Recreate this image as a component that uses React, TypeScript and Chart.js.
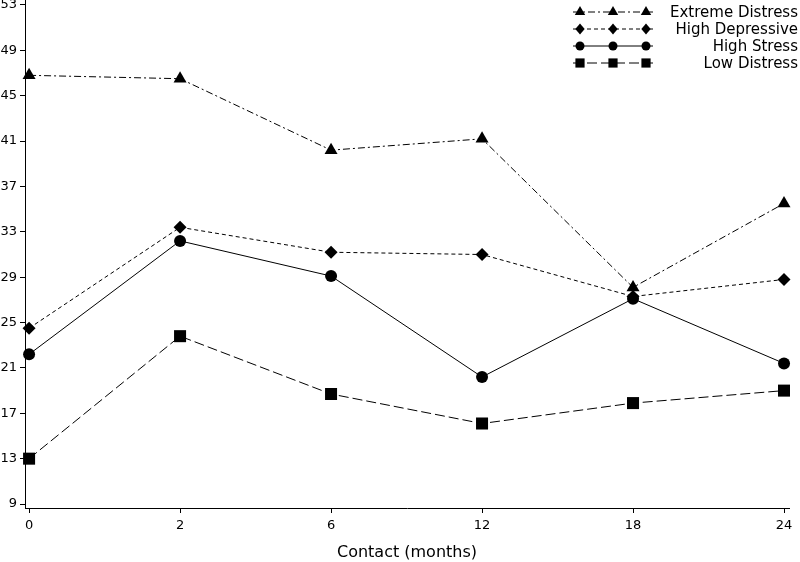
import React, { useEffect, useRef } from 'react';
import { Chart, registerables } from 'chart.js';

Chart.register(...registerables);

const categories = ['0', '2', '6', '12', '18', '24'];
const seriesNames = ['Extreme Distress', 'High Depressive', 'High Stress', 'Low Distress'];
const extremeDistress = [46.8, 46.5, 40.2, 41.2, 28.1, 35.5];
const highDepressive = [24.5, 33.4, 31.2, 31.0, 27.3, 28.8];
const highStress = [22.2, 32.2, 29.1, 20.2, 27.1, 21.4];
const lowDistress = [13.0, 23.8, 18.7, 16.1, 17.9, 19.0];
const yTicks = [9, 13, 17, 21, 25, 29, 33, 37, 41, 45, 49, 53];
const xTitle = 'Contact (months)';

const FONT = '"DejaVu Sans", sans-serif';

const styles = [
  { dash: [7, 3, 2, 3], pointStyle: 'triangle', radius: 7.5, legendR: 6 },
  { dash: [4, 3], pointStyle: 'rectRot', radius: 6.5, legendR: 5.5 },
  { dash: [], pointStyle: 'circle', radius: 6, legendR: 4.5 },
  { dash: [10, 4], pointStyle: 'rect', radius: 8.5, legendR: 6.5 },
];

function drawMarker(ctx: CanvasRenderingContext2D, style: string, x: number, y: number, r: number) {
  ctx.beginPath();
  if (style === 'triangle') {
    ctx.moveTo(x, y - r);
    ctx.lineTo(x + r * Math.cos(Math.PI / 6), y + r / 2);
    ctx.lineTo(x - r * Math.cos(Math.PI / 6), y + r / 2);
    ctx.closePath();
  } else if (style === 'rectRot') {
    ctx.moveTo(x, y - r);
    ctx.lineTo(x + r * 0.85, y);
    ctx.lineTo(x, y + r);
    ctx.lineTo(x - r * 0.85, y);
    ctx.closePath();
  } else if (style === 'circle') {
    ctx.arc(x, y, r, 0, Math.PI * 2);
  } else {
    const s = r * Math.SQRT1_2;
    ctx.rect(x - s, y - s, 2 * s, 2 * s);
  }
  ctx.fill();
}

const legendPlugin = {
  id: 'customLegend',
  afterDraw(chart: any) {
    const ctx = chart.ctx as CanvasRenderingContext2D;
    ctx.save();
    chart.data.datasets.forEach((ds: any, i: number) => {
      const st = styles[i];
      const y = 12 + i * 17;
      ctx.strokeStyle = '#000';
      ctx.fillStyle = '#000';
      ctx.lineWidth = 1;
      ctx.setLineDash(st.dash);
      ctx.beginPath();
      ctx.moveTo(573, y);
      ctx.lineTo(653, y);
      ctx.stroke();
      ctx.setLineDash([]);
      [580, 613, 646].forEach((mx) => drawMarker(ctx, st.pointStyle, mx, y, st.legendR));
      ctx.font = '15px ' + FONT;
      ctx.textAlign = 'right';
      ctx.textBaseline = 'middle';
      ctx.fillText(ds.label, 798, y + 1);
    });
    ctx.restore();
  },
};

export default function App() {
  const ref = useRef<HTMLCanvasElement | null>(null);

  useEffect(() => {
    document.body.style.margin = '0';
    const seriesData = [extremeDistress, highDepressive, highStress, lowDistress];
    const chart = new Chart(ref.current as HTMLCanvasElement, {
      type: 'line',
      data: {
        datasets: seriesData.map((vals, i) => ({
          label: seriesNames[i],
          data: vals.map((v, j) => ({ x: j, y: v })),
          borderColor: '#000',
          backgroundColor: '#000',
          borderWidth: 1,
          borderDash: styles[i].dash,
          pointStyle: styles[i].pointStyle as any,
          pointRadius: styles[i].radius,
          pointBackgroundColor: '#000',
          pointBorderColor: '#000',
          pointBorderWidth: 0,
          tension: 0,
          fill: false,
          clip: false as any,
        })),
      },
      options: {
        animation: false,
        responsive: false,
        events: [],
        layout: { autoPadding: false, padding: { left: 0, right: 11, top: 0, bottom: 0 } },
        plugins: { legend: { display: false }, tooltip: { enabled: false } },
        scales: {
          x: {
            type: 'linear',
            min: -0.027,
            max: 5.033,
            afterBuildTicks: (s: any) => {
              s.ticks = categories.map((_, i) => ({ value: i }));
            },
            afterFit: (s: any) => {
              s.height = 54;
              s.paddingLeft = 0;
              s.paddingRight = 0;
            },
            ticks: {
              callback: (v: any) => categories[v as number],
              font: { family: FONT, size: 13 },
              color: '#000',
              padding: 5,
              maxRotation: 0,
              autoSkip: false,
            },
            grid: { display: true, drawOnChartArea: false, drawTicks: true, tickLength: 5, color: '#000' },
            border: { display: true, color: '#000', width: 1 },
            title: {
              display: true,
              text: xTitle,
              font: { family: FONT, size: 16 },
              color: '#000',
              padding: { top: 2, bottom: 0 },
            },
          },
          y: {
            type: 'linear',
            min: 8.65,
            max: 53.44,
            afterBuildTicks: (s: any) => {
              s.ticks = yTicks.map((v) => ({ value: v }));
            },
            afterFit: (s: any) => {
              s.width = 25;
              s.paddingTop = 0;
              s.paddingBottom = 0;
            },
            ticks: {
              font: { family: FONT, size: 13 },
              color: '#000',
              padding: 3,
              autoSkip: false,
            },
            grid: { display: true, drawOnChartArea: false, drawTicks: true, tickLength: 5, color: '#000' },
            border: { display: true, color: '#000', width: 1 },
          },
        },
      },
      plugins: [legendPlugin],
    } as any);
    return () => chart.destroy();
  }, []);

  return (
    <div style={{ width: 800, height: 562 }}>
      <canvas ref={ref} width={800} height={562} />
    </div>
  );
}
